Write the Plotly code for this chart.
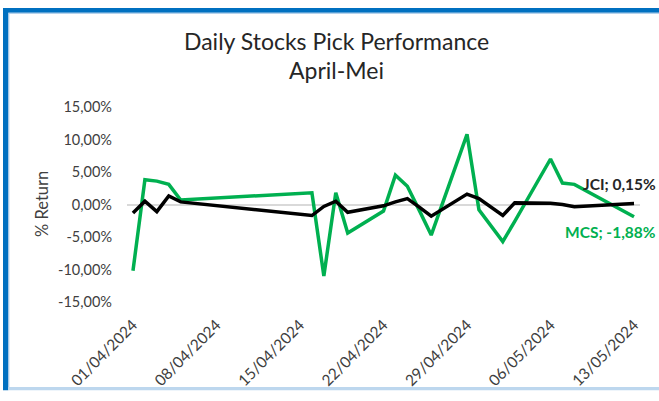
import plotly.graph_objects as go

# ---- data ----
dates = ["2024-04-01", "2024-04-02", "2024-04-03", "2024-04-04", "2024-04-05",
         "2024-04-16", "2024-04-17", "2024-04-18", "2024-04-19", "2024-04-22",
         "2024-04-23", "2024-04-24", "2024-04-25", "2024-04-26", "2024-04-29",
         "2024-04-30", "2024-05-02", "2024-05-03", "2024-05-06", "2024-05-07",
         "2024-05-08", "2024-05-13"]
mcs = [-10.2, 3.8, 3.6, 3.1, 0.7, 1.8, -11.0, 1.8, -4.4, -1.0, 4.5, 2.8, -0.9,
       -4.7, 10.8, -0.8, -5.7, -2.6, 7.0, 3.3, 3.1, -1.88]
jci = [-1.3, 0.5, -1.1, 1.3, 0.4, -1.7, -0.3, 0.5, -1.2, -0.2, 0.4, 0.9, -0.4,
       -1.8, 1.6, 0.9, -1.7, 0.25, 0.2, 0.0, -0.35, 0.15]
x_tickvals = ["2024-04-01", "2024-04-08", "2024-04-15", "2024-04-22",
              "2024-04-29", "2024-05-06", "2024-05-13"]
x_ticktext = ["01/04/2024", "08/04/2024", "15/04/2024", "22/04/2024",
              "29/04/2024", "06/05/2024", "13/05/2024"]
y_tickvals = [-15, -10, -5, 0, 5, 10, 15]
y_ticktext = ["-15,00%", "-10,00%", "-5,00%", "0,00%", "5,00%", "10,00%", "15,00%"]

W, H = 659, 401
L, R, T, B = 127, 640, 107, 310

def px2x(px):
    return (px - L) / (R - L)

def py2y(py):
    return (B - py) / (B - T)

FONT = "Lato"

fig = go.Figure()
fig.add_trace(go.Scatter(x=dates, y=mcs, mode="lines", name="MCS",
                         line=dict(color="#00B050", width=3.5)))
fig.add_trace(go.Scatter(x=dates, y=jci, mode="lines", name="JCI",
                         line=dict(color="#000000", width=3.5)))

shapes = [
    dict(type="rect", xref="paper", yref="paper", x0=px2x(3), x1=px2x(662),
         y0=py2y(9), y1=py2y(4), fillcolor="#0070C0", line=dict(width=0), layer="above"),
    dict(type="rect", xref="paper", yref="paper", x0=px2x(3), x1=px2x(8.3),
         y0=py2y(402), y1=py2y(4), fillcolor="#0070C0", line=dict(width=0), layer="above"),
    dict(type="rect", xref="paper", yref="paper", x0=px2x(8.3), x1=px2x(662),
         y0=py2y(10), y1=py2y(9), fillcolor="#9DC3E6", line=dict(width=0), layer="above"),
    dict(type="rect", xref="paper", yref="paper", x0=px2x(8.3), x1=px2x(9.3),
         y0=py2y(399), y1=py2y(10), fillcolor="#9DC3E6", line=dict(width=0), layer="above"),
    dict(type="rect", xref="paper", yref="paper", x0=px2x(8.3), x1=px2x(662),
         y0=py2y(402), y1=py2y(398.5), fillcolor="#BDD7EE", line=dict(width=0), layer="above"),
]

annotations = [
    dict(text="Daily Stocks Pick Performance", xref="paper", yref="paper",
         x=px2x(336), y=py2y(38), xanchor="center", yanchor="middle", showarrow=False,
         font=dict(family=FONT, size=23, color="#262626")),
    dict(text="April-Mei", xref="paper", yref="paper",
         x=px2x(336), y=py2y(69), xanchor="center", yanchor="middle", showarrow=False,
         font=dict(family=FONT, size=23, color="#262626")),
    dict(text="% Return", xref="paper", yref="paper", textangle=-90,
         x=px2x(42), y=py2y(208), xanchor="center", yanchor="middle", showarrow=False,
         font=dict(family=FONT, size=16.5, color="#404040")),
    dict(text="<b>JCI; 0,15%</b>", xref="paper", yref="paper",
         x=px2x(658), y=py2y(186.7), xanchor="right", yanchor="middle", showarrow=False,
         font=dict(family=FONT, size=15.5, color="#262626")),
    dict(text="<b>MCS; -1,88%</b>", xref="paper", yref="paper",
         x=px2x(658), y=py2y(236.7), xanchor="right", yanchor="middle", showarrow=False,
         font=dict(family=FONT, size=15.5, color="#00B050")),
]

fig.update_layout(
    width=W, height=H,
    margin=dict(l=L, r=W - R, t=T, b=H - B, pad=0),
    paper_bgcolor="white", plot_bgcolor="white",
    showlegend=False,
    shapes=shapes,
    annotations=annotations,
    xaxis=dict(type="date", range=["2024-03-31 12:00", "2024-05-13 12:00"],
               tickvals=x_tickvals, ticktext=x_ticktext, tickangle=-45,
               showgrid=False, zeroline=False, showline=False, ticks="",
               ticklabelstandoff=10,
               tickfont=dict(family=FONT, size=15.5, color="#404040")),
    yaxis=dict(range=[-15, 15], tickvals=y_tickvals, ticktext=y_ticktext,
               showgrid=False, zeroline=True, zerolinecolor="#D9D9D9", zerolinewidth=2,
               showline=False, ticks="", ticklabelstandoff=14,
               tickfont=dict(family=FONT, size=14.5, color="#404040")),
)

fig.write_html(
    "out.html",
    config={"displayModeBar": False},
    post_script=("document.documentElement.style.overflow='hidden';"
                 "document.body.style.overflow='hidden';"
                 "document.body.style.margin='0';"),
)
